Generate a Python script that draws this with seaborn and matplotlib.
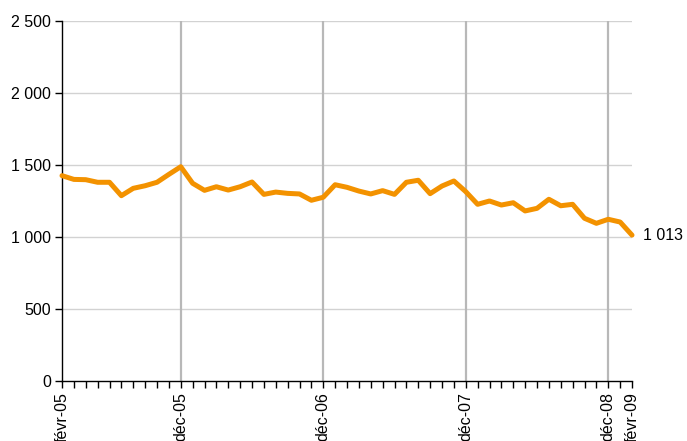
import matplotlib
matplotlib.use("Agg")
import matplotlib.pyplot as plt
import seaborn as sns
import pandas as pd

# Monthly values, févr-05 .. févr-09
values = [1426, 1400, 1398, 1380, 1380, 1287, 1338, 1356, 1380, 1435,
          1488, 1373, 1324, 1349, 1326, 1349, 1382, 1296, 1312, 1303,
          1299, 1255, 1276, 1363, 1345, 1319, 1299, 1322, 1296, 1380,
          1394, 1301, 1354, 1389, 1315, 1227, 1250, 1222, 1238, 1181,
          1199, 1262, 1217, 1227, 1130, 1095, 1123, 1104, 1013]
label_months = [0, 10, 22, 34, 46, 48]
label_texts = ["févr-05", "déc-05", "déc-06", "déc-07", "déc-08", "févr-09"]
grid_months = [10, 22, 34, 46]
y_ticks = [0, 500, 1000, 1500, 2000, 2500]
last_label = "1 013"

df = pd.DataFrame({"month": list(range(len(values))), "value": values})

sns.set_style("white")
plt.rcParams["font.family"] = ["Liberation Sans", "DejaVu Sans"]

fig = plt.figure(figsize=(6.87, 4.41), dpi=100)
ax = fig.add_axes([62/687, 60/441, 570/687, 360/441])

for yt in y_ticks[1:]:
    ax.axhline(yt, color="#d2d2d2", lw=1.0, zorder=0)
for gm in grid_months:
    ax.axvline(gm, color="#b8b8b8", lw=1.6, zorder=0)

sns.lineplot(data=df, x="month", y="value", ax=ax, color="#F39200",
             linewidth=3.6, zorder=3, clip_on=False)

ax.set_xlim(0, len(values) - 1)
ax.set_ylim(0, 2500)
ax.set_yticks(y_ticks)
ax.set_yticklabels([f"{v:,}".replace(",", " ") for v in y_ticks], fontsize=11.5)

ticks = list(range(len(values)))
labels = [""] * len(values)
for m, t in zip(label_months, label_texts):
    labels[m] = t
ax.set_xticks(ticks)
ax.set_xticklabels(labels, rotation=90, fontsize=11.5, va="top", ha="center")

ax.tick_params(axis="both", which="major", direction="out", length=5,
               width=1, color="black", pad=3, labelcolor="black",
               left=True, bottom=True)
ax.set_xlabel("")
ax.set_ylabel("")
for s in ["top", "right"]:
    ax.spines[s].set_visible(False)
for s in ["left", "bottom"]:
    ax.spines[s].set_color("black")
    ax.spines[s].set_linewidth(1)

ax.annotate(last_label, xy=(len(values) - 1, values[-1]), xytext=(8, 0),
            textcoords="offset points", va="center", ha="left",
            fontsize=11.5, color="black", annotation_clip=False)

fig.savefig("out.png", dpi=100)
